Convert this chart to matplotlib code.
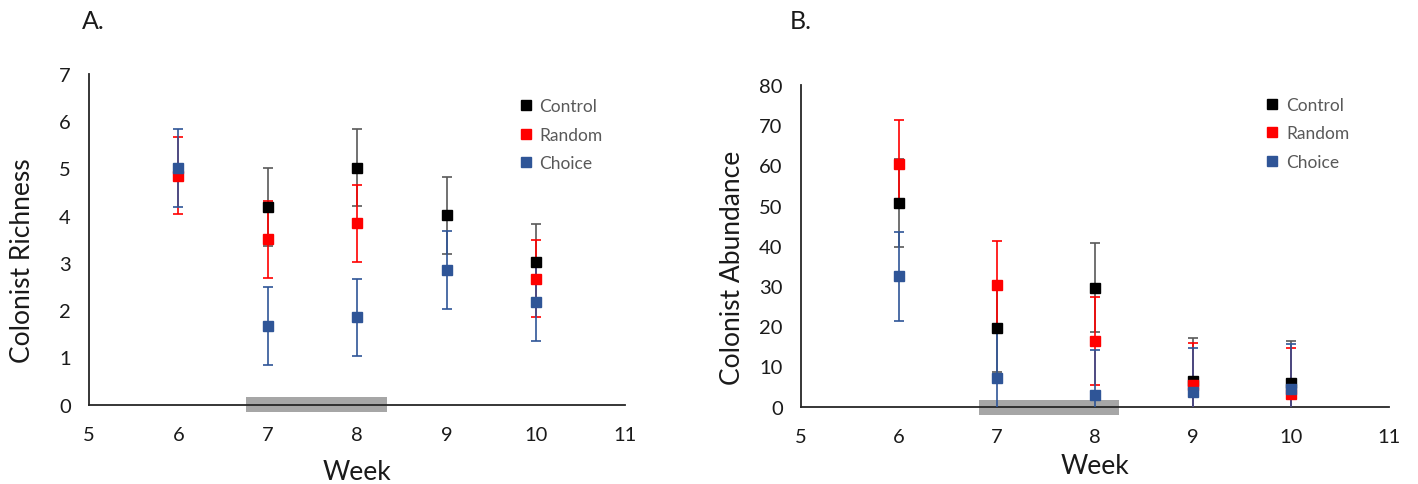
import matplotlib
matplotlib.use("Agg")
import matplotlib.pyplot as plt
from matplotlib.lines import Line2D
from matplotlib.patches import Rectangle
import numpy as np

nan = float('nan')
weeks = [6, 7, 8, 9, 10]
series = ["Control", "Random", "Choice"]

# Panel A: Colonist Richness (points hidden behind others in the original left out)
rich_control = [nan, 4.18, 5.02, 4.01, 3.01]
rich_control_err = [0.82, 0.82, 0.82, 0.82, 0.82]
rich_random = [4.85, 3.50, 3.84, nan, 2.67]
rich_random_err = [0.82, 0.82, 0.82, 0.82, 0.82]
rich_choice = [5.01, 1.67, 1.85, 2.85, 2.17]
rich_choice_err = [0.82, 0.82, 0.82, 0.82, 0.82]

# Panel B: Colonist Abundance
abun_control = [50.6, 19.6, 29.6, 6.3, 5.9]
abun_control_err = [11.0, 11.0, 11.1, 10.9, 10.4]
abun_random = [60.3, 30.3, 16.3, 5.5, 3.2]
abun_random_err = [11.0, 10.9, 11.0, 10.4, 11.3]
abun_choice = [32.4, 7.1, 2.9, 3.6, 4.4]
abun_choice_err = [11.1, 11.8, 11.2, 10.9, 11.1]

marker_colors = {"Control": "#000000", "Random": "#FF0000", "Choice": "#2F5597"}
err_colors = {"Control": "#595959", "Random": "#FF0000", "Choice": "#2F5597"}

plt.rcParams['font.family'] = ['Lato', 'DejaVu Sans']

fig = plt.figure(figsize=(14.18, 4.85), dpi=100)
axA = fig.add_axes([0.0628, 0.1635, 0.3783, 0.6819])
axB = fig.add_axes([0.5647, 0.1594, 0.4149, 0.6633])


def draw(ax, data, ylim, yticks, ylabel, bar, title, title_x, legend_anchor,
         ylabel_xy, xlabel_pad):
    for name in series:
        vals, errs = data[name]
        ax.errorbar(weeks, vals, yerr=errs, fmt='none', ecolor=err_colors[name],
                    elinewidth=1.2, capsize=3.5, capthick=1.2, zorder=3)
    for name in series:
        vals, errs = data[name]
        ax.plot(weeks, vals, linestyle='none', marker='s', markersize=7.5,
                color=marker_colors[name], zorder=4)
    ax.set_xlim(5, 11)
    ax.set_ylim(*ylim)
    ax.set_xticks([5, 6, 7, 8, 9, 10, 11])
    ax.set_yticks(yticks)
    for s in ['top', 'right']:
        ax.spines[s].set_visible(False)
    for s in ['left', 'bottom']:
        ax.spines[s].set_color('#262626')
        ax.spines[s].set_linewidth(1.3)
        ax.spines[s].set_zorder(2)
    ax.tick_params(length=0, labelsize=14.5, colors='#1a1a1a', pad=13)
    ax.tick_params(axis='x', pad=15)
    ax.set_ylabel(ylabel, fontsize=19, color='#1a1a1a')
    ax.yaxis.set_label_coords(*ylabel_xy)
    ax.set_xlabel("Week", fontsize=19, labelpad=xlabel_pad, color='#1a1a1a')
    x0, x1, y0, y1 = bar
    ax.add_patch(Rectangle((x0, y0), x1 - x0, y1 - y0, facecolor='#A6A6A6',
                           edgecolor='none', clip_on=False, zorder=1))
    fig.text(title_x, 0.955, title, fontsize=18, ha='left', va='center', color='#1a1a1a')
    handles = [Line2D([], [], linestyle='none', marker='s', markersize=6.5,
                      color=marker_colors[n]) for n in series]
    leg = ax.legend(handles, series, loc='upper left', bbox_to_anchor=legend_anchor,
                    frameon=False, fontsize=12.5, handlelength=0.6, handletextpad=0.5,
                    labelspacing=0.72, borderpad=0, borderaxespad=0)
    for t in leg.get_texts():
        t.set_color('#595959')


draw(axA,
     {"Control": (rich_control, rich_control_err),
      "Random": (rich_random, rich_random_err),
      "Choice": (rich_choice, rich_choice_err)},
     (0, 7), range(0, 8), "Colonist Richness",
     (6.75, 8.33, -0.16, 0.17), "A.", 0.058, (0.804, 0.927), (-0.100, 0.4375), 12)

draw(axB,
     {"Control": (abun_control, abun_control_err),
      "Random": (abun_random, abun_random_err),
      "Choice": (abun_choice, abun_choice_err)},
     (0, 80), range(0, 81, 10), "Colonist Abundance",
     (6.82, 8.25, -2.0, 1.74), "B.", 0.557, (0.793, 0.963), (-0.095, 0.436), 6)

fig.savefig("out.png", dpi=100)
